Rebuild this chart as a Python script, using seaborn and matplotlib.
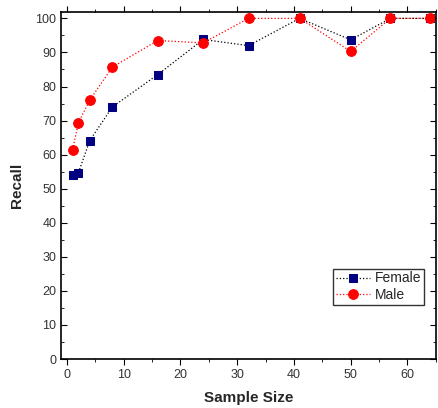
import numpy as np
import pandas as pd
import seaborn as sns
import matplotlib.pyplot as plt
from matplotlib.ticker import MultipleLocator

sample_size = [1, 2, 4, 8, 16, 24, 32, 41, 50, 57, 64]
female_recall = [54.0, 54.6, 64.1, 74.0, 83.5, 93.8, 92.0, 100, 93.7, 100, 100]
male_recall = [61.5, 69.3, 76.0, 85.7, 93.5, 92.8, 100, 100, 90.3, 100, 100]

def plot_recall():
    sns.set_style('ticks')
    plt.rcParams['font.family'] = ['Liberation Sans', 'DejaVu Sans']
    plt.rcParams.update({'font.size': 9})
    fig, ax = plt.subplots(figsize=(4.38, 4.08), dpi=100)
    df = pd.DataFrame({
        'Sample Size': sample_size * 2,
        'Recall': female_recall + male_recall,
        'Group': ['Female'] * len(sample_size) + ['Male'] * len(sample_size),
    })
    sns.lineplot(data=df[df['Group'] == 'Female'], x='Sample Size', y='Recall', ax=ax,
                 color='black', linestyle=':', linewidth=0.9, marker='s', markersize=6,
                 markerfacecolor='#000080', markeredgecolor='#000080', label='Female')
    sns.lineplot(data=df[df['Group'] == 'Male'], x='Sample Size', y='Recall', ax=ax,
                 color='red', linestyle=':', linewidth=0.9, marker='o', markersize=7,
                 markerfacecolor='red', markeredgecolor='red', label='Male')
    ax.set_xlim(-1, 65)
    ax.set_ylim(0, 101.8)
    ax.xaxis.set_major_locator(MultipleLocator(10))
    ax.xaxis.set_minor_locator(MultipleLocator(5))
    ax.yaxis.set_major_locator(MultipleLocator(10))
    ax.yaxis.set_minor_locator(MultipleLocator(5))
    ax.tick_params(axis='both', which='both', top=True, right=True, colors='black',
                   labelcolor='#333333', labelsize=9)
    ax.tick_params(axis='x', which='major', direction='out', length=4)
    ax.tick_params(axis='x', which='minor', direction='out', length=2.5)
    ax.tick_params(axis='y', which='major', direction='in', length=4)
    ax.tick_params(axis='y', which='minor', direction='in', length=2.5)
    for side in ['top', 'right', 'left', 'bottom']:
        ax.spines[side].set_visible(True)
        ax.spines[side].set_linewidth(1.2)
        ax.spines[side].set_color('black')
    ax.set_xlabel('Sample Size', fontweight='bold', fontsize=11, labelpad=7)
    ax.set_ylabel('Recall', fontweight='bold', fontsize=11, labelpad=8)
    leg = ax.legend(loc='lower right', bbox_to_anchor=(0.968, 0.156), frameon=True,
                    fancybox=False, edgecolor='black', fontsize=10, handlelength=2.5,
                    borderpad=0.2, labelspacing=0.2, handletextpad=0.3, borderaxespad=0)
    leg.get_frame().set_linewidth(1.0)
    fig.subplots_adjust(left=0.14, right=0.995, top=0.97, bottom=0.12)
    return fig

if __name__ == '__main__':
    fig = plot_recall()
    fig.savefig('out.png', dpi=100)
